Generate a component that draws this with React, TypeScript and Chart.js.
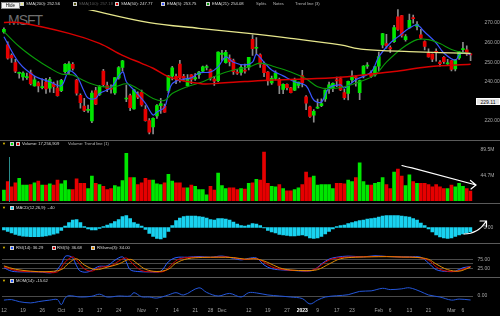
import React, { useEffect, useRef } from "react";
import { Chart, registerables } from "chart.js";
Chart.register(...registerables);

const FONT = '"Liberation Sans", Arial, sans-serif';

// ---------- DATA ----------
const opens = [265.5,258.8,253.5,249.8,244.3,242.5,242.1,244.6,237.9,239.5,237.0,239.9,236.8,238.9,236.8,235.4,245.1,245.3,248.9,240.9,233.1,227.6,225.4,220.0,235.5,233.6,245.5,238.0,236.8,234.3,242.0,247.3,231.2,233.0,226.2,233.8,234.6,226.0,220.2,217.0,222.6,227.8,227.5,235.4,242.8,242.8,249.0,242.8,238.0,243.5,241.4,243.6,245.4,247.3,246.1,241.4,240.6,253.9,249.8,252.0,250.8,244.8,244.8,245.8,247.4,261.7,257.1,253.7,248.6,244.9,239.4,241.7,241.3,236.1,238.7,236.9,235.7,238.2,243.1,232.3,227.2,223.0,226.5,227.8,231.3,236.3,237.0,241.0,241.6,234.5,234.0,241.0,242.5,234.5,243.7,248.0,244.5,243.5,248.0,258.8,259.5,257.4,260.5,273.2,273.8,261.5,267.6,272.7,268.3,264.0,260.5,254.5,254.1,255.6,250.0,252.5,249.1,250.8,246.6,252.2,256.4,256.3,254.0];
const highs = [267.5,260.4,254.2,251.4,245.0,245.1,244.4,246.0,242.8,240.1,241.5,241.8,242.3,239.9,240.5,241.3,249.3,250.3,249.8,241.3,233.8,231.6,228.1,235.4,237.2,238.0,246.3,239.8,238.5,242.2,247.8,251.0,238.3,233.7,236.2,234.9,235.7,227.9,221.2,221.6,228.4,231.6,228.6,243.2,247.9,243.9,250.9,243.8,243.7,243.7,244.2,245.3,248.0,248.5,246.5,242.8,255.3,256.1,256.1,253.8,251.6,246.2,248.7,249.0,252.5,263.9,262.6,254.2,250.0,245.2,242.9,245.6,241.9,238.9,238.9,237.2,241.9,239.9,245.8,232.9,227.6,225.8,231.2,231.3,235.9,239.9,239.4,242.4,242.4,236.1,240.3,245.6,243.0,240.9,248.3,249.8,245.6,247.9,255.2,264.7,264.2,258.3,268.8,276.8,273.9,264.1,274.6,274.0,270.7,266.7,260.9,256.8,254.3,256.8,250.8,252.8,251.5,250.9,251.4,255.6,260.1,258.4,254.5];
const lows = [264.8,251.6,249.9,244.7,241.8,240.8,241.2,238.4,237.7,234.8,236.3,234.1,234.7,234.4,232.7,234.9,244.4,244.0,245.9,233.2,226.5,224.8,224.3,219.1,228.3,233.1,237.6,235.0,234.2,233.5,241.3,245.4,229.8,225.2,226.0,231.4,227.5,219.9,213.4,213.4,221.3,223.8,224.3,234.4,241.0,239.0,239.8,240.4,237.7,239.0,240.7,241.7,245.0,246.0,240.8,238.2,240.0,250.9,249.5,248.1,243.8,243.8,243.4,244.4,246.1,253.4,254.0,247.3,242.6,238.3,238.6,240.9,233.9,233.9,235.8,234.3,235.4,236.9,237.4,225.8,221.8,219.4,226.4,227.3,230.0,234.0,234.9,237.5,235.5,231.0,230.8,239.5,237.8,230.9,242.0,246.8,242.2,242.9,245.5,257.3,257.1,254.8,260.1,266.2,262.8,260.7,267.2,269.9,266.5,261.9,256.2,252.6,250.3,250.5,248.0,249.4,248.9,245.6,245.6,251.4,255.0,253.5,250.8];
const closes = [266.7,252.0,252.2,245.4,244.7,244.5,242.5,239.0,241.0,237.9,237.5,236.4,241.1,237.5,232.9,240.7,248.9,249.2,246.8,234.2,229.3,225.4,225.8,234.2,228.6,237.5,238.5,236.5,236.2,242.1,247.3,250.7,231.3,226.8,235.9,232.1,228.2,220.1,214.3,221.4,227.9,228.9,224.5,243.0,247.1,241.6,242.0,241.7,241.7,241.2,242.1,245.0,247.6,247.5,241.8,240.3,255.1,254.7,255.0,250.2,245.1,244.4,247.4,245.4,252.5,256.9,257.2,249.0,244.7,240.5,241.8,244.4,238.2,238.7,237.0,234.5,241.0,239.8,239.6,229.1,222.3,224.9,227.1,228.9,235.8,238.5,239.2,240.4,235.8,231.9,240.2,242.6,242.0,240.6,248.0,248.2,242.7,247.8,252.8,264.6,258.4,256.8,267.6,266.7,263.6,263.1,271.3,272.2,269.3,262.2,258.1,252.7,251.5,254.8,249.2,250.2,249.4,246.3,251.1,255.3,256.9,254.2,253.7];
// volume, millions
const volumes = [19,34,25,32,40,28,28,29,32,35,28,28,30,28,37,30,36,20,20,39,31,31,22,44,31,29,26,20,22,27,25,36,84,41,41,29,32,40,37,37,30,29,32,47,35,32,32,23,23,28,26,20,20,11,26,19,49,27,22,23,23,20,22,21,31,32,38,37,86,31,26,25,29,22,18,18,20,23,29,51,41,44,28,29,29,29,22,31,31,30,37,34,41,67,34,28,28,31,33,41,29,22,51,56,44,27,46,34,31,31,31,29,25,29,25,22,22,28,25,31,26,22,17.3];
const macd = [-1.0,-1.6,-2.2,-2.8,-3.2,-3.5,-3.6,-3.7,-3.7,-3.7,-3.6,-3.4,-3.1,-2.7,-2.3,-1.2,0.6,2.0,3.0,3.2,2.0,0.4,-0.6,-1.0,-1.0,-0.4,0.4,1.0,1.6,2.4,3.2,4.4,4.8,3.6,2.0,1.4,0.6,-0.8,-2.4,-3.6,-4.4,-4.6,-4.0,-1.6,0.8,2.8,3.8,4.4,4.6,4.6,4.6,4.4,4.2,3.8,3.2,3.0,3.6,3.6,3.4,3.0,2.2,1.4,0.8,0.6,1.0,1.6,1.4,0.8,-0.2,-1.2,-1.8,-2.2,-2.8,-3.0,-3.2,-3.4,-3.4,-3.2,-3.0,-3.4,-4.2,-4.4,-4.2,-3.6,-2.6,-1.6,-0.6,0.4,0.8,1.0,1.6,2.0,2.4,2.8,3.0,3.4,3.6,3.8,4.2,4.6,4.8,4.8,4.8,4.8,4.6,4.4,4.2,3.6,3.0,1.8,0.8,-0.6,-1.8,-3.0,-3.8,-4.2,-4.4,-4.2,-3.6,-3.0,-2.6,-2.2,-1.8];

const sma200Pts: [number, number][] = [[8,283.5],[22,277],[38,270.2],[51,267.3],[64,264.7],[75,262.2],[88,258.8],[94,256.5],[106,255.4],[122,254.5]];
const sma50Pts: [number, number][] = [[0,270.3],[4,270.2],[17,264.7],[25,259.6],[31,253.5],[36,249.4],[39,246.9],[43,242.6],[48,240.1],[52,238.9],[56,239.2],[63,240.1],[70,240.9],[79,241.4],[88,242.3],[94,243.5],[102,245.2],[111,247.7],[122,248.9]];
const ema5Pts: [number, number][] = [[0,263],[4,249.6],[8,243],[12,240],[15,238],[17,245.5],[19,243],[21,235],[22,231.7],[24,231.5],[25,234],[28,237],[31,245],[32,240],[34,235.8],[37,229],[39,223],[40,224.6],[42,227],[43,234],[44,239],[46,241],[49,242],[51,244.5],[54,245],[56,247.6],[58,252.7],[60,250],[63,248.6],[65,250],[66,254],[68,250],[70,246],[73,243],[76,240],[79,238],[81,230.7],[83,229.7],[85,236.8],[88,238.4],[89,236.8],[92,241],[96,245],[98,252.7],[101,259.8],[103,262.9],[106,267.4],[108,269],[110,265.4],[113,259.8],[115,254.7],[118,251],[119,253.7],[120,254.7],[122,254]];
const ema21Pts: [number, number][] = [[0,265.6],[4,258],[8,252],[12,247],[15,244],[18,243.5],[21,240.5],[25,237.8],[29,237.5],[32,239],[35,236.5],[39,231.5],[42,230.5],[44,234],[48,237.5],[52,240],[56,243.5],[60,246],[64,247.5],[67,249.5],[71,247.5],[75,245],[79,241.5],[82,237.5],[85,236.5],[89,237.5],[93,240],[97,243.5],[100,250],[104,257],[108,261.5],[111,261.5],[114,259.5],[117,256.5],[120,254.8],[122,254.5]];

const rsiFastPts: [number, number][] = [[0,30],[2,12],[5,8],[9,8],[13,6],[15,50],[16,90],[17,93],[18,82],[19,40],[20,12],[22,8],[24,30],[25,38],[27,40],[29,70],[31,88],[32,60],[33,20],[35,10],[38,8],[41,12],[43,62],[45,84],[48,86],[51,90],[54,86],[57,92],[60,80],[62,72],[64,80],[66,82],[68,45],[70,25],[73,18],[76,15],[79,12],[81,18],[83,50],[85,76],[87,86],[90,92],[94,88],[97,94],[100,90],[103,88],[106,88],[109,86],[111,55],[113,20],[116,10],[118,12],[120,30],[122,36.3]];
const rsiPts: [number, number][] = [[0,35],[3,15],[6,10],[10,8],[14,8],[16,60],[18,88],[19,70],[21,25],[23,12],[25,32],[28,40],[30,65],[32,82],[34,45],[36,15],[39,8],[42,12],[44,50],[46,78],[50,86],[54,85],[58,88],[61,80],[63,74],[66,78],[68,60],[70,35],[73,20],[77,15],[80,14],[82,30],[84,60],[86,78],[89,86],[93,88],[97,90],[101,90],[105,86],[108,85],[111,70],[113,35],[115,15],[118,10],[120,22],[122,36.7]];
const rsiSmoPts: [number, number][] = [[0,40],[3,22],[7,12],[11,9],[15,20],[17,55],[19,78],[21,45],[24,20],[27,33],[30,50],[33,75],[35,50],[37,22],[40,10],[43,22],[45,55],[48,78],[52,85],[56,86],[60,84],[63,76],[66,77],[69,58],[72,30],[75,18],[79,15],[82,20],[85,50],[88,78],[92,86],[96,88],[100,89],[104,87],[108,85],[111,75],[113,50],[116,20],[119,12],[121,25],[122,34]];
const momPts: [number, number][] = [[0,-16],[2,-14],[4,-22],[7,-27],[9,-22],[12,-16],[14,-14],[15,-34],[16,-8],[17,1],[20,-4],[23,-1],[25,7],[27,-4],[30,0],[33,0],[34,13],[36,-3],[38,-4],[40,-8],[43,4],[45,13],[47,4],[51,32],[53,14],[56,0],[59,10],[62,-4],[64,13],[66,12],[69,4],[72,0],[75,-4],[78,-10],[80,-31],[82,-16],[84,-4],[87,1],[90,5],[93,18],[96,20],[99,30],[101,25],[104,28],[106,32],[109,17],[111,4],[114,-4],[117,-16],[119,-12],[122,-15.62]];

const xTicks: [number, string][] = [[0,"12"],[5,"19"],[10,"26"],[15,"Oct"],[20,"10"],[25,"17"],[30,"24"],[36,"Nov"],[40,"7"],[45,"14"],[50,"21"],[54,"28"],[57,"Dec"],[64,"12"],[69,"19"],[74,"27"],[78,"2023"],[82,"9"],[87,"17"],[91,"23"],[98,"Feb"],[101,"6"],[106,"13"],[111,"21"],[117,"Mar"],[120,"6"]];
const priceTicks = [220, 240, 250, 260, 270];
const volTicks = [44.7, 89.5];

// ---------- HELPERS ----------
const labels = closes.map((_, i) => i);
const pts = (p: [number, number][]) => p.map(([x, y]) => ({ x, y }));
const UP = "#00e600";
const DN = "#e60000";
const dirColors = closes.map((c, i) => (c >= opens[i] ? UP : DN));

function yAxis(o: { min: number; max: number; ticks: number[]; fmt: (v: number) => string; pad: number; grid?: string }) {
  return {
    type: "linear",
    position: "right",
    min: o.min,
    max: o.max,
    afterFit: (s: any) => { s.width = 27.5; s.paddingTop = 0; s.paddingBottom = 0; },
    afterBuildTicks: (s: any) => { s.ticks = o.ticks.map((v) => ({ value: v })); },
    ticks: { color: "#a8a8a8", font: { size: 5, family: FONT }, padding: o.pad, callback: (v: any) => o.fmt(Number(v)) },
    grid: { display: !!o.grid, color: o.grid || "transparent", drawTicks: false, lineWidth: 1 },
    border: { display: false },
  };
}
const hiddenX = { type: "category", offset: true, display: false, grid: { display: false } };

function baseOptions(scales: any, padTop: number, padBottom: number) {
  return {
    responsive: false,
    animation: false,
    events: [],
    layout: { autoPadding: false, padding: { left: 2, right: 0, top: padTop, bottom: padBottom } },
    plugins: { legend: { display: false }, tooltip: { enabled: false } },
    scales,
  };
}

const line = (data: [number, number][], color: string, width: number, order = 1) => ({
  type: "line",
  data: pts(data),
  borderColor: color,
  borderWidth: width,
  pointRadius: 0,
  pointHoverRadius: 0,
  tension: 0.35,
  fill: false,
  order,
});

function priceConfig(): any {
  return {
    type: "bar",
    data: {
      labels,
      datasets: [
        line(sma200Pts, "#e6e68c", 1.3),
        line(sma50Pts, "#d80000", 1.5),
        line(ema21Pts, "#0a9a0a", 1.1),
        line(ema5Pts, "#3a55ff", 1.2),
        { type: "bar", data: lows.map((l, i) => [l, highs[i]]), backgroundColor: "#8c8c8c", barThickness: 1, grouped: false, order: 3 },
        { type: "bar", data: opens.map((o, i) => [o, closes[i]]), backgroundColor: dirColors, barThickness: 3, grouped: false, minBarLength: 1, order: 2 },
      ],
    },
    options: baseOptions({ x: hiddenX, y: yAxis({ min: 210.8, max: 281.73, ticks: priceTicks, fmt: (v) => v.toFixed(2), pad: 12 }) }, 0, 0),
  };
}

function volumeConfig(): any {
  return {
    type: "bar",
    data: { labels, datasets: [{ data: volumes, backgroundColor: dirColors, barThickness: 3 }] },
    options: baseOptions({ x: hiddenX, y: yAxis({ min: 0, max: 96.7, ticks: volTicks, fmt: (v) => v.toFixed(1) + "M", pad: 8 }) }, 5, 1),
    plugins: [{
      id: "volAnno",
      afterDatasetsDraw(chart: any) {
        const ctx = chart.ctx;
        ctx.save();
        ctx.strokeStyle = "#2a8c8c";
        ctx.lineWidth = 1;
        ctx.beginPath();
        ctx.moveTo(9.5, 16);
        ctx.lineTo(9.5, 61);
        ctx.stroke();
        ctx.strokeStyle = "#ffffff";
        ctx.lineWidth = 1.2;
        ctx.lineCap = "round";
        ctx.beginPath();
        ctx.moveTo(402, 24.5);
        ctx.quadraticCurveTo(406, 26, 412, 26.8);
        ctx.lineTo(476, 44);
        ctx.moveTo(470.5, 39.5);
        ctx.lineTo(476, 44);
        ctx.lineTo(471, 48);
        ctx.stroke();
        ctx.restore();
      },
    }],
  };
}

function macdConfig(): any {
  return {
    type: "bar",
    data: { labels, datasets: [{ data: macd, backgroundColor: "#19d2f0", barThickness: 3 }] },
    options: baseOptions({ x: hiddenX, y: yAxis({ min: -5.0, max: 6.2, ticks: [0], fmt: (v) => v.toFixed(2), pad: 11 }) }, 8, 2),
    plugins: [{
      id: "macdAnno",
      afterDatasetsDraw(chart: any) {
        const ctx = chart.ctx;
        ctx.save();
        ctx.strokeStyle = "#ffffff";
        ctx.lineWidth = 1.2;
        ctx.lineCap = "round";
        ctx.beginPath();
        ctx.moveTo(464, 30);
        ctx.quadraticCurveTo(478, 30, 486, 17.5);
        ctx.moveTo(480, 17);
        ctx.lineTo(486.5, 17);
        ctx.lineTo(486.5, 23);
        ctx.stroke();
        ctx.restore();
      },
    }],
  };
}

function rsiConfig(): any {
  return {
    type: "line",
    data: {
      labels,
      datasets: [
        line(rsiSmoPts, "#e08a00", 1),
        line(rsiPts, "#d00000", 1),
        line(rsiFastPts, "#2a5cff", 1),
      ],
    },
    options: baseOptions({
      x: hiddenX,
      y: yAxis({ min: -8.5, max: 113.8, ticks: [25, 50, 75], fmt: (v) => (v === 50 ? "" : v.toFixed(2)), pad: 5, grid: "#4a4a4a" }),
    }, 8, 1),
  };
}

const tickMap: Record<number, string> = {};
xTicks.forEach(([i, s]) => { tickMap[i] = s; });

function momConfig(): any {
  return {
    type: "line",
    data: { labels, datasets: [line(momPts, "#2456d8", 1)] },
    options: baseOptions({
      x: {
        type: "category",
        offset: true,
        grid: { display: false, drawTicks: false },
        border: { display: false },
        afterFit: (s: any) => { s.height = 11; s.paddingLeft = 0; s.paddingRight = 0; },
        afterBuildTicks: (s: any) => { s.ticks = xTicks.map(([i]) => ({ value: i })); },
        ticks: {
          autoSkip: false,
          maxRotation: 0,
          padding: 3,
          callback: (v: any) => tickMap[Number(v)] ?? "",
          color: (c: any) => (c.tick && c.tick.label === "2023" ? "#ffffff" : "#a0a0a0"),
          font: (c: any) => ({ size: 5, family: FONT, weight: c.tick && c.tick.label === "2023" ? "bold" : "normal" }),
        },
      },
      y: yAxis({ min: -35.1, max: 46.8, ticks: [0], fmt: (v) => v.toFixed(2), pad: 5, grid: "#4a4a4a" }),
    }, 6, 0),
  };
}

// ---------- COMPONENTS ----------
function Panel({ top, height, config }: { top: number; height: number; config: () => any }) {
  const ref = useRef<HTMLCanvasElement>(null);
  useEffect(() => {
    const chart = new Chart(ref.current as HTMLCanvasElement, config());
    return () => chart.destroy();
  }, []);
  return <canvas ref={ref} width={500} height={height} style={{ position: "absolute", left: 0, top, width: 500, height }} />;
}

const abs = (x: number, y: number): React.CSSProperties => ({ position: "absolute", left: x, top: y });
const Sq = ({ x, y, c }: { x: number; y: number; c: string }) => (
  <div style={{ ...abs(x, y), width: 4, height: 4, background: c, boxSizing: "border-box", border: "0.5px solid #cfcfcf" }} />
);
const T = ({ x, y, s, c = "#dcdcdc", size = 4.2 }: { x: number; y: number; s: string; c?: string; size?: number }) => (
  <div style={{ ...abs(x, y), fontSize: size, color: c, lineHeight: 1, whiteSpace: "nowrap", fontFamily: FONT }}>{s}</div>
);
const Tri = ({ y }: { y: number }) => <T x={2} y={y} s="▼" c="#e6c000" size={4} />;
const Sep = ({ y }: { y: number }) => <div style={{ ...abs(0, y), width: 500, height: 1, background: "#5a5a5a" }} />;

export default function App() {
  return (
    <div style={{ position: "absolute", left: 0, top: 0, width: 500, height: 316, background: "#000", overflow: "hidden" }}>
      <div style={{ ...abs(8, 13), fontSize: 14, letterSpacing: -1, color: "#6e6e6e", fontFamily: FONT, lineHeight: 1 }}>MSFT</div>
      <Panel top={0} height={139} config={priceConfig} />
      <Panel top={141} height={61} config={volumeConfig} />
      <Panel top={204} height={38} config={macdConfig} />
      <Panel top={244} height={32} config={rsiConfig} />
      <Panel top={278} height={38} config={momConfig} />
      <Sep y={140} />
      <Sep y={203} />
      <Sep y={243} />
      <Sep y={277} />

      {/* price legend */}
      <div style={{ ...abs(0, 0), width: 320, height: 9.5, background: "#000" }} />
      <div style={{ ...abs(1, 1.5), width: 19, height: 7, background: "#f2f2f2", border: "0.5px solid #888", boxSizing: "border-box", fontSize: 4.5, lineHeight: "6px", textAlign: "center", color: "#000", fontFamily: FONT }}>Hide</div>
      <Sq x={20} y={2} c="#e6e68c" />
      <T x={26} y={2.2} s="SMA(200): 252.56" />
      <Sq x={73} y={2} c="#55550f" />
      <T x={79} y={2.2} s="SMA(100): 257.18" c="#5a5a5a" />
      <Sq x={115} y={2} c="#d80000" />
      <T x={121} y={2.2} s="SMA(50): 247.77" />
      <Sq x={161} y={2} c="#3a55ff" />
      <T x={167} y={2.2} s="EMA(5): 253.75" />
      <Sq x={206} y={2} c="#0a9a0a" />
      <T x={212} y={2.2} s="EMA(21): 254.08" />
      <T x={256} y={2.2} s="Splits" c="#b8b8b8" />
      <T x={273} y={2.2} s="Notes" c="#b8b8b8" />
      <T x={295} y={2.2} s="Trend line (3)" c="#b8b8b8" />
      <div style={{ ...abs(476, 97.5), width: 24, height: 7, background: "#e4e4e4", border: "0.5px solid #fff", boxSizing: "border-box", fontSize: 5, lineHeight: "6px", textAlign: "center", color: "#111", fontFamily: FONT }}>229.11</div>

      {/* volume legend */}
      <Tri y={142} />
      <Sq x={10} y={142} c={UP} />
      <Sq x={15.5} y={142} c={DN} />
      <T x={22} y={142.2} s="Volume: 17,256,909" />
      <T x={68} y={142.2} s="Volume: Trend line (1)" c="#b8b8b8" />

      {/* macd legend */}
      <Tri y={206} />
      <Sq x={10} y={206} c="#19d2f0" />
      <T x={16} y={206.2} s="MACD(12,26,9): -.40" />

      {/* rsi legend */}
      <Tri y={246} />
      <Sq x={10} y={246} c="#2a5cff" />
      <T x={16} y={246.2} s="RSI(14): 36.29" />
      <Sq x={52} y={246} c="#d00000" />
      <T x={57} y={246.2} s="RSI(5): 36.68" />
      <Sq x={91} y={246} c="#e08a00" />
      <T x={97} y={246.2} s="RSIsmo(3): 34.00" />

      {/* mom legend */}
      <Tri y={278.5} />
      <Sq x={10} y={278.5} c="#2a5cff" />
      <T x={16} y={278.7} s="MOM(14): -15.62" />
    </div>
  );
}
